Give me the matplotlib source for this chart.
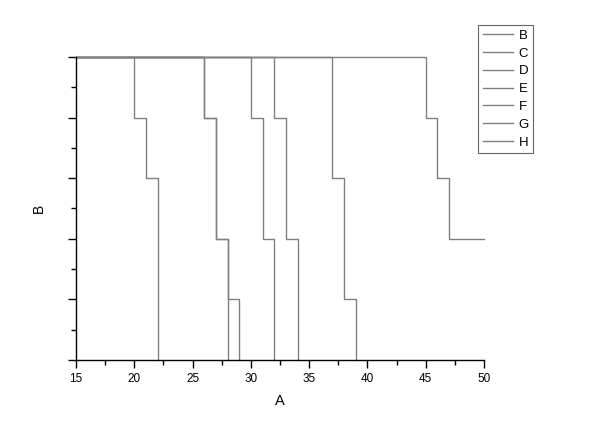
# Se importan librerias necesarias para generar el gráfico
import matplotlib.pyplot as plt
from matplotlib.ticker import MultipleLocator

plt.rcParams['font.family'] = ['Liberation Sans', 'DejaVu Sans']

# Datos de cada columna: puntos donde cambia el escalon (eje A) y su nivel
nombres = ['B', 'C', 'D', 'E', 'F', 'G', 'H']
xB = [15, 20, 21, 22]
yB = [5, 4, 3, 0]
xC = [15, 26, 27, 28]
yC = [5, 4, 2, 0]
xD = [15, 26, 27, 28, 29]
yD = [5, 4, 2, 1, 0]
xE = [15, 30, 31, 32]
yE = [5, 4, 2, 0]
xF = [15, 32, 33, 34]
yF = [5, 4, 2, 0]
xG = [15, 37, 38, 39]
yG = [5, 3, 1, 0]
xH = [15, 45, 46, 47, 50]
yH = [5, 4, 3, 2, 2]

series = [(xB, yB), (xC, yC), (xD, yD), (xE, yE), (xF, yF), (xG, yG), (xH, yH)]
gris = '#808080'

# Se configura tamaño del gráfico
fig = plt.figure(figsize=(6, 4.24), dpi=100)
ax = fig.add_axes([0.1267, 0.151, 0.68, 0.7146])

for (x, y), nombre in zip(series, nombres):
    ax.step(x, y, where='post', color=gris, linewidth=1.0, label=nombre,
            clip_on=False)

# Ejes
ax.set_xlim(15, 50)
ax.set_ylim(0, 5)
ax.xaxis.set_major_locator(MultipleLocator(5))
ax.xaxis.set_minor_locator(MultipleLocator(2.5))
ax.yaxis.set_major_locator(MultipleLocator(1))
ax.yaxis.set_minor_locator(MultipleLocator(0.5))
ax.tick_params(which='major', direction='out', length=6, width=1, labelsize=8.5)
ax.tick_params(which='minor', direction='out', length=3.5, width=1)
ax.tick_params(axis='y', labelleft=False)
ax.spines['top'].set_visible(False)
ax.spines['right'].set_visible(False)
for lado in ['left', 'bottom']:
    ax.spines[lado].set_linewidth(1.0)

# Se configuran etiquetas para el gráfico
ax.set_xlabel('A', fontsize=10.5, labelpad=6)
ax.set_ylabel('B', fontsize=10, labelpad=15)

leyenda = ax.legend(loc='upper left', bbox_to_anchor=(0.797, 0.941),
                    bbox_transform=fig.transFigure, frameon=True, fancybox=False,
                    fontsize=9.5, handlelength=2.3, handletextpad=0.4,
                    labelspacing=0.42, borderpad=0.35, borderaxespad=0)
leyenda.get_frame().set_edgecolor('#404040')
leyenda.get_frame().set_linewidth(0.8)

fig.savefig('out.png', dpi=100)
